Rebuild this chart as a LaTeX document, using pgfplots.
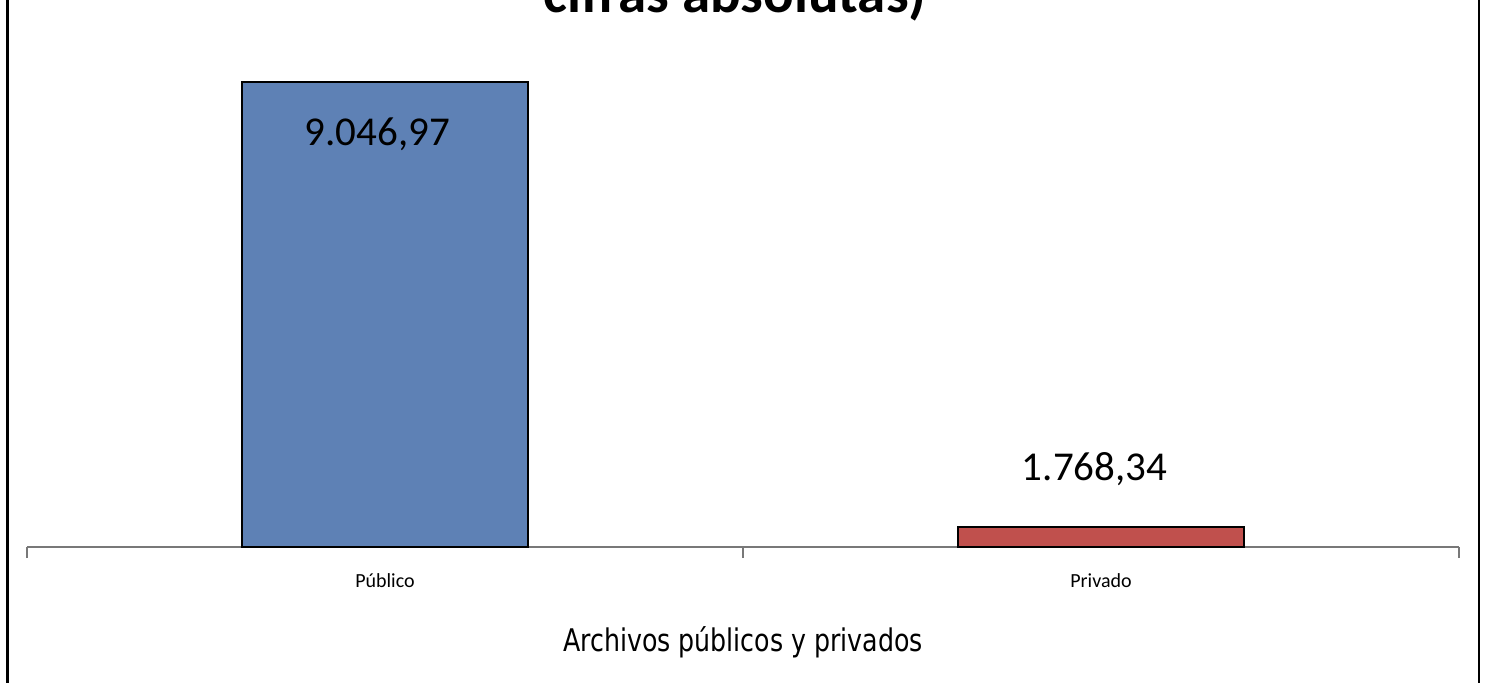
\documentclass[border=0pt]{standalone}
\usepackage{fontspec}
\setmainfont{Carlito}
\newfontfamily\tahoma[FakeStretch=0.81]{DejaVu Sans}
\usepackage{pgfplots}
\pgfplotsset{compat=1.18}

\definecolor{publico}{RGB}{94,129,181}
\definecolor{privado}{RGB}{192,80,77}
\definecolor{ejegris}{RGB}{120,120,120}

% etiquetas de datos al estilo 9.046,97
\newcommand{\etiqueta}{\pgfmathprintnumber[fixed,fixed zerofill,precision=2,use comma,1000 sep={.},assume math mode=true]{\pgfplotspointmeta}}

\begin{document}
\begin{tikzpicture}[x=1pt,y=1pt]
  \useasboundingbox (0,0) rectangle (743,341);
  % marco del grafico
  \draw[line width=1.3pt] (3.6,-10) -- (3.6,360);
  \draw[line width=1.3pt] (739.4,-10) -- (739.4,360);
  \node[font=\bfseries\fontsize{28.5}{34}\selectfont, anchor=base] at (367.5,334.5) {cifras absolutas)};
  \begin{axis}[
      at={(13.5pt,67.5pt)}, anchor=south west,
      scale only axis, width=716pt, height=253.5pt,
      xmin=0, xmax=2, ymin=1446, ymax=9733.5,
      axis x line*=bottom, axis y line=none,
      axis line style={ejegris, line width=0.75pt},
      ybar,
      xtick={0.5,1.5}, xticklabels={Público,Privado},
      major tick length=0pt,
      minor xtick={0,1,2}, minor tick length=5.5pt, tick align=outside,
      minor tick style={ejegris, line width=0.75pt},
      xticklabel style={font=\fontsize{10}{12}\selectfont, anchor=base, yshift=-20pt},
      xlabel={Archivos públicos y privados},
      xlabel style={at={(axis description cs:0.5,0)}, anchor=base, yshift=-52pt,
                    font=\tahoma\fontsize{15.6}{18}\selectfont},
    ]
    \addplot[fill=publico, draw=black, line width=1pt, bar width=0.4, bar shift=0pt,
      nodes near coords={\etiqueta},
      every node near coord/.append style={anchor=base, yshift=-31.5pt, xshift=-3.75pt,
        font=\fontsize{20.5}{24}\selectfont, text=black}]
      coordinates {(0.5,9046.97)};
    \addplot[fill=privado, draw=black, line width=1pt, bar width=0.4, bar shift=0pt,
      nodes near coords={\etiqueta},
      every node near coord/.append style={anchor=base, yshift=23.3pt, xshift=-3.25pt,
        font=\fontsize{20.5}{24}\selectfont, text=black}]
      coordinates {(1.5,1768.34)};
  \end{axis}
\end{tikzpicture}
\end{document}
